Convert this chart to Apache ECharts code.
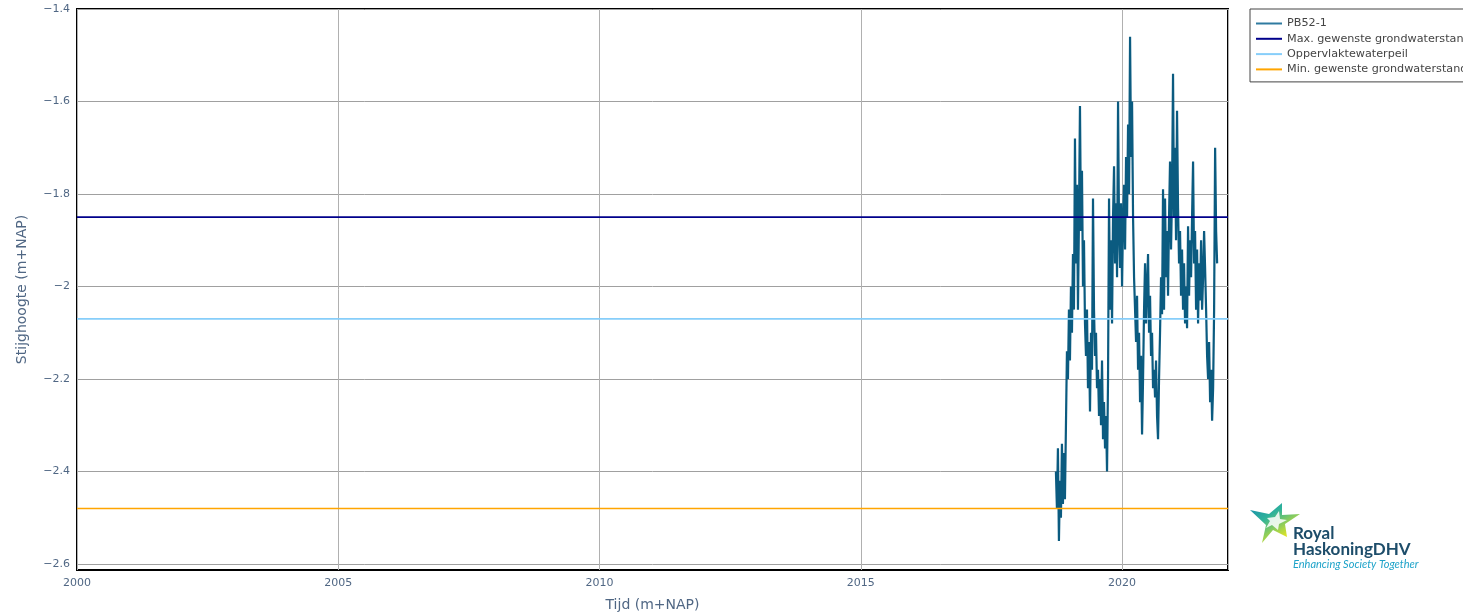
<!DOCTYPE html>
<html>
<head>
<meta charset="utf-8">
<script src="https://cdn.jsdelivr.net/npm/echarts@6/dist/echarts.min.js"></script>
<style>
html,body{margin:0;padding:0;background:#fff;}
#chart{width:1463px;height:613px;}
</style>
</head>
<body>
<div id="chart"></div>
<script>
// ---- data ----
const dates = [
'2018-09-26','2018-10-03','2018-10-10','2018-10-17','2018-10-24','2018-10-31','2018-11-07','2018-11-14','2018-11-21','2018-11-28','2018-12-05','2018-12-12','2018-12-19','2018-12-26',
'2019-01-02','2019-01-09','2019-01-16','2019-01-23','2019-01-30','2019-02-06','2019-02-13','2019-02-20','2019-02-27','2019-03-06','2019-03-13','2019-03-20','2019-03-27','2019-04-03','2019-04-10','2019-04-17','2019-04-24','2019-05-01','2019-05-08','2019-05-15','2019-05-22','2019-05-29','2019-06-05','2019-06-12','2019-06-19','2019-06-26','2019-07-03','2019-07-10','2019-07-17','2019-07-24','2019-07-31','2019-08-07','2019-08-14','2019-08-21','2019-08-28','2019-09-04','2019-09-11','2019-09-18','2019-09-25','2019-10-02','2019-10-09','2019-10-16','2019-10-23','2019-10-30','2019-11-06','2019-11-13','2019-11-20','2019-11-27','2019-12-04','2019-12-11','2019-12-18','2019-12-25',
'2020-01-01','2020-01-08','2020-01-15','2020-01-22','2020-01-29','2020-02-05','2020-02-12','2020-02-19','2020-02-26','2020-03-04','2020-03-11','2020-03-18','2020-03-25','2020-04-01','2020-04-08','2020-04-15','2020-04-22','2020-04-29','2020-05-06','2020-05-13','2020-05-20','2020-05-27','2020-06-03','2020-06-10','2020-06-17','2020-06-24','2020-07-01','2020-07-08','2020-07-15','2020-07-22','2020-07-29','2020-08-05','2020-08-12','2020-08-19','2020-08-26','2020-09-02','2020-09-09','2020-09-16','2020-09-23','2020-09-30','2020-10-07','2020-10-14','2020-10-21','2020-10-28','2020-11-04','2020-11-11','2020-11-18','2020-11-25','2020-12-02','2020-12-09','2020-12-16','2020-12-23','2020-12-30',
'2021-01-06','2021-01-13','2021-01-20','2021-01-27','2021-02-03','2021-02-10','2021-02-17','2021-02-24','2021-03-03','2021-03-10','2021-03-17','2021-03-24','2021-03-31','2021-04-07','2021-04-14','2021-04-21','2021-04-28','2021-05-05','2021-05-12','2021-05-19','2021-05-26','2021-06-02','2021-06-09','2021-06-16','2021-06-23','2021-06-30','2021-07-07','2021-07-14','2021-07-21','2021-07-28','2021-08-04','2021-08-11','2021-08-18','2021-08-25','2021-09-01','2021-09-08','2021-09-15','2021-09-22','2021-09-29','2021-10-06','2021-10-13','2021-10-20','2021-10-27'
];
const pb52 = [
-2.40,-2.48,-2.35,-2.55,-2.42,-2.50,-2.34,-2.47,-2.36,-2.46,
-2.30,-2.14,-2.20,-2.05,-2.16,-2.00,-2.10,-1.93,-2.05,-1.68,
-1.95,-1.78,-2.05,-1.85,-1.61,-1.88,-1.75,-2.00,-1.90,-2.08,
-2.15,-2.05,-2.22,-2.12,-2.27,-2.10,-2.18,-1.81,-2.05,-2.15,
-2.10,-2.22,-2.18,-2.28,-2.20,-2.30,-2.16,-2.33,-2.25,-2.35,
-2.28,-2.40,-2.20,-1.81,-2.05,-1.90,-2.08,-1.85,-1.74,-1.95,
-1.82,-1.98,-1.60,-1.88,-1.96,-1.82,-2.00,-1.85,-1.78,-1.92,
-1.72,-1.85,-1.65,-1.80,-1.46,-1.72,-1.60,-1.85,-1.98,-2.05,
-2.12,-2.02,-2.18,-2.10,-2.25,-2.15,-2.32,-2.20,-2.05,-1.95,
-2.08,-2.00,-1.93,-2.10,-2.02,-2.15,-2.10,-2.22,-2.18,-2.24,
-2.16,-2.28,-2.33,-2.20,-2.10,-1.98,-2.06,-1.79,-2.05,-1.81,
-1.98,-1.88,-2.02,-1.85,-1.73,-1.92,-1.80,-1.54,-1.85,-1.70,
-1.90,-1.62,-1.83,-1.95,-1.88,-2.02,-1.92,-2.05,-1.95,-2.08,
-2.00,-2.09,-1.87,-2.02,-1.90,-1.98,-1.85,-1.73,-1.95,-1.88,
-2.05,-1.92,-2.08,-1.95,-2.03,-1.90,-2.05,-1.98,-1.88,-1.96,
-2.05,-2.15,-2.20,-2.12,-2.25,-2.18,-2.29,-2.22,-2.05,-1.70,
-1.88,-1.95
];
const xRange = ['2000-01-01', '2022-01-11'];
const maxLevel = -1.85;
const surfaceLevel = -2.07;
const minLevel = -2.48;
const yTicks = [-2.6, -2.4, -2.2, -2.0, -1.8, -1.6, -1.4];
const xTickStepYears = 5;
const seriesNames = ['PB52-1', 'Max. gewenste grondwaterstand', 'Oppervlaktewaterpeil', 'Min. gewenste grondwaterstand'];

// ---- helpers ----
// convert a date string to a fractional year (time scale expressed in years)
function toYear(s) {
  const d = new Date(s + 'T00:00:00Z');
  const y = d.getUTCFullYear();
  const start = Date.UTC(y, 0, 1), end = Date.UTC(y + 1, 0, 1);
  return y + (d.getTime() - start) / (end - start);
}

const chart = echarts.init(document.getElementById('chart'), null, {renderer: 'canvas'});
const fmtNum = v => (Math.round(v * 10) / 10).toString().replace('-', '\u2212');
const tickColor = '#506784';
const font = 'DejaVu Sans';
const xMin = toYear(xRange[0]), xMax = toYear(xRange[1]);

const hline = (name, val, color) => ({
  name: name, type: 'line', showSymbol: false, symbol: 'none', silent: true,
  data: [[xMin, val], [xMax, val]],
  lineStyle: {color: color, width: 1.6}, itemStyle: {color: color}
});

chart.setOption({
  animation: false,
  backgroundColor: '#fff',
  grid: {left: 77, right: 235, top: 9, bottom: 43, show: true, borderColor: '#000', borderWidth: 2,
         backgroundColor: 'transparent', outerBoundsMode: 'none', containLabel: false},
  legend: {
    orient: 'vertical', left: 1250, top: 9,
    data: seriesNames,
    icon: 'rect', itemWidth: 26, itemHeight: 2, itemGap: 4.3,
    borderColor: '#444', borderWidth: 1, padding: [9, 8, 7, 6],
    backgroundColor: '#fff',
    textStyle: {fontFamily: font, fontSize: 11.2, color: '#444'}
  },
  xAxis: {
    type: 'value', min: xMin, max: xMax, interval: xTickStepYears,
    name: 'Tijd (m+NAP)', nameLocation: 'middle', nameGap: 28,
    nameTextStyle: {fontFamily: font, fontSize: 14, color: tickColor},
    axisLine: {show: false}, axisTick: {show: false},
    axisLabel: {formatter: v => String(Math.round(v)),
      fontFamily: font, fontSize: 11, color: tickColor, margin: 8, showMinLabel: true, showMaxLabel: false},
    splitLine: {show: true, lineStyle: {color: '#b0b0b0', width: 1}}
  },
  yAxis: {
    type: 'value', min: -2.613, max: -1.4,
    name: 'Stijghoogte (m+NAP)', nameLocation: 'middle', nameGap: 48, nameRotate: 90,
    nameTextStyle: {fontFamily: font, fontSize: 14, color: tickColor},
    axisLine: {show: false}, axisTick: {show: false, customValues: yTicks},
    axisLabel: {customValues: yTicks, formatter: fmtNum, fontFamily: font, fontSize: 11, color: tickColor, margin: 7},
    splitLine: {show: true, lineStyle: {color: '#a0a0a0', width: 1}}
  },
  series: [
    {
      name: seriesNames[0], type: 'line', showSymbol: false, symbol: 'none',
      data: dates.map((d, i) => [toYear(d), pb52[i]]),
      lineStyle: {color: '#0b5b80', width: 2.2}, itemStyle: {color: '#2f7aa0'}
    },
    hline(seriesNames[1], maxLevel, '#00008b'),
    hline(seriesNames[2], surfaceLevel, '#87cefa'),
    hline(seriesNames[3], minLevel, '#ffa500')
  ],
  graphic: [
    {
      type: 'polygon',
      shape: {points: [[1250,510],[1269,514],[1282,503],[1282,515],[1300,514],[1285,524],[1287,537],[1273,530],[1262,543],[1266,525]]},
      style: {fill: new echarts.graphic.LinearGradient(0, 0, 0.5, 1, [
        {offset: 0, color: '#1688b0'}, {offset: 0.45, color: '#2fb39a'}, {offset: 1, color: '#e0e424'}])}
    },
    {
      type: 'polygon',
      shape: {points: [[1267,518],[1275,517],[1279,511],[1280,519],[1287,520],[1279,524],[1278,530],[1272,525],[1266,528],[1270,521]]},
      style: {fill: '#ffffff', opacity: 0.85}
    },
    {type: 'text', left: 1293, top: 525, style: {text: 'Royal', font: 'bold 17px Lato', fill: '#1d4d6a'}},
    {type: 'text', left: 1293, top: 541, style: {text: 'HaskoningDHV', font: 'bold 17px Lato', fill: '#1d4d6a'}},
    {type: 'text', left: 1293, top: 559, style: {text: 'Enhancing Society Together', font: 'italic 11px Lato', fill: '#1ea3c9'}}
  ]
});
</script>
</body>
</html>
